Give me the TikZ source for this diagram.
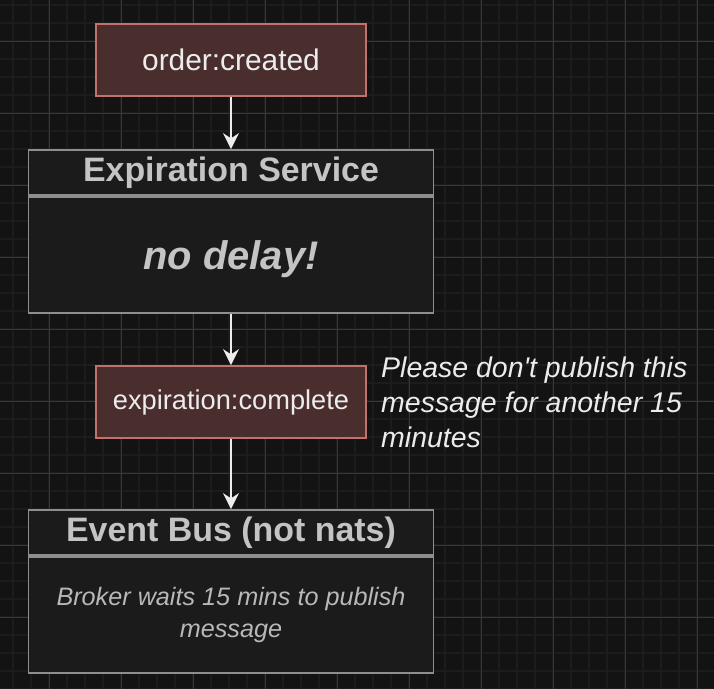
\documentclass[tikz,border=0pt]{standalone}
\usepackage{fontspec}
\setmainfont{Liberation Sans}[Ligatures=TeXOff]
\usetikzlibrary{positioning,arrows.meta}

\definecolor{bgdark}{HTML}{131313}
\definecolor{gridminor}{HTML}{1C1C1C}
\definecolor{gridmajor}{HTML}{383838}
\definecolor{eventfill}{HTML}{4A2E2D}
\definecolor{eventline}{HTML}{C2716C}
\definecolor{lanefill}{HTML}{1B1B1B}
\definecolor{laneline}{HTML}{8E8E8E}
\definecolor{lanetext}{HTML}{C4C4C4}
\definecolor{bodytext}{HTML}{B8B8B8}
\definecolor{arrowwhite}{HTML}{ECECEC}

\tikzset{
	eventbox/.style={draw=eventline, fill=eventfill, line width=1pt, minimum width=5.4cm, minimum height=1.44cm, text=arrowwhite, font=\fontsize{16}{19}\selectfont},
	lanehead/.style={draw=laneline, fill=lanefill, line width=1pt, minimum width=8.1cm, minimum height=0.9cm, text=lanetext, font=\bfseries\fontsize{19.3}{23}\selectfont},
	lanebody/.style={draw=laneline, fill=lanefill, line width=1pt, minimum width=8.1cm, minimum height=2.32cm, align=center},
	notetext/.style={inner sep=0pt, align=left, text=arrowwhite, font=\itshape\fontsize{16.2}{19.9}\selectfont},
	flow/.style={draw=arrowwhite, line width=1pt, -{Stealth[length=0.32cm,width=0.32cm]}},
}

\begin{document}
\begin{tikzpicture}
		\fill[bgdark] (0,0) rectangle (14.28,13.76);
		\begin{scope}
			\clip (0,0) rectangle (14.28,13.76);
			\draw[gridminor, line width=1pt, shift={(0.266,0.334)}, step=0.36] (-1,-1) grid (15,15);
			\draw[gridmajor, line width=0.6pt, shift={(0.986,1.414)}, step=1.44] (-2,-2) grid (15,15);
		\end{scope}

		\node[eventbox, font=\fontsize{17}{20}\selectfont] (ordercreated) at (4.62, 12.56) {order:created};

		\node[lanehead] (expirationhead) at (4.62, 10.31) {Expiration Service};
		\node[lanebody, below=0pt of expirationhead, text=lanetext, font=\bfseries\itshape\fontsize{22.7}{27}\selectfont, text depth=0pt] (expirationbody) {no delay!};

		\node[eventbox, font=\fontsize{15.5}{19}\selectfont] (expirationcomplete) at (4.62, 5.72) {expiration:complete};
		\node[notetext, right=0.28cm of expirationcomplete] (delaynote) {Please don't publish this\\message for another 15\\minutes};

		\node[lanehead] (bushead) at (4.62, 3.11) {Event Bus (not nats)};
		\node[lanebody, below=0pt of bushead, text=bodytext, font=\itshape\fontsize{14.35}{18}\selectfont] (busbody) {Broker waits 15 mins to publish\\message};

		\draw[flow] (ordercreated) -- (expirationhead);
		\draw[flow] (expirationbody) -- (expirationcomplete);
		\draw[flow] (expirationcomplete) -- (bushead);
	\end{tikzpicture}
\end{document}
